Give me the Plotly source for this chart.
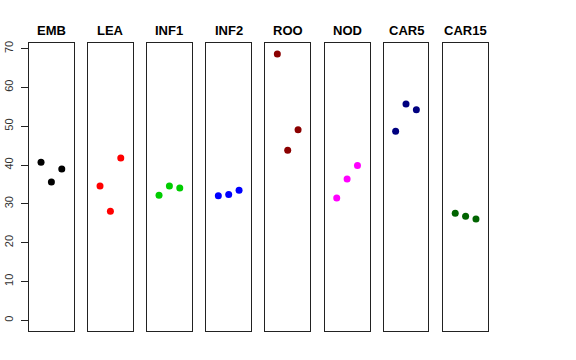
import plotly.graph_objects as go

categories = ["EMB", "LEA", "INF1", "INF2", "ROO", "NOD", "CAR5", "CAR15"]
colors = ["#000000", "#FF0000", "#00CD00", "#0000FF", "#8B0000", "#FF00FF", "#000080", "#006400"]
replicate = [1, 2, 3]
values = {
    "EMB": [40.7, 35.6, 39.0],
    "LEA": [34.6, 28.1, 41.8],
    "INF1": [32.2, 34.6, 34.1],
    "INF2": [32.1, 32.4, 33.5],
    "ROO": [68.6, 43.8, 49.1],
    "NOD": [31.5, 36.4, 39.9],
    "CAR5": [48.7, 55.7, 54.2],
    "CAR15": [27.6, 26.8, 26.1],
}
y_ticks = [0, 10, 20, 30, 40, 50, 60, 70]

W, H = 576, 360
panel_left = [29, 88, 147, 206.3, 265.3, 324.7, 383.6, 443.2]
panel_w = 44.8
top_px, bot_px = 43.3, 331.0

ymax = max(max(v) for v in values.values())
yr = [0 - 0.04 * ymax, ymax * 1.04]

fig = go.Figure()
for i, cat in enumerate(categories):
    ax = "" if i == 0 else str(i + 1)
    fig.add_trace(go.Scatter(
        x=replicate, y=values[cat], mode="markers",
        marker=dict(color=colors[i], size=7, line=dict(width=0)),
        xaxis="x" + ax, yaxis="y" + ax, showlegend=False, hoverinfo="skip",
    ))
    x0 = panel_left[i] / W
    x1 = (panel_left[i] + panel_w) / W
    xa = dict(domain=[x0, x1], range=[-0.16, 4.16], showticklabels=False, ticks="",
              showgrid=False, zeroline=False, showline=True, mirror=True,
              linecolor="#222222", linewidth=1, anchor="y" + ax, automargin=False)
    ya = dict(domain=[1 - bot_px / H, 1 - top_px / H], range=yr, showgrid=False,
              zeroline=False, showline=True, mirror=True, linecolor="#222222",
              linewidth=1, anchor="x" + ax, automargin=False)
    if i == 0:
        ya.update(tickvals=y_ticks, ticks="outside", ticklen=7, tickcolor="#222222",
                  tickangle=-90, ticklabelstandoff=4,
                  tickfont=dict(family="Liberation Sans, Arial", size=11, color="#333333"))
    else:
        ya.update(showticklabels=False, ticks="")
    fig.update_layout(**{"xaxis" + ax: xa, "yaxis" + ax: ya})
    fig.add_annotation(
        text="<b>" + cat + "</b>", x=(x0 + x1) / 2, y=1 - 30 / H,
        xref="paper", yref="paper", showarrow=False, xanchor="center", yanchor="middle",
        font=dict(family="Liberation Sans, Arial", size=13, color="#000000"),
    )

fig.update_layout(width=W, height=H, margin=dict(l=0, r=0, t=0, b=0),
                  plot_bgcolor="white", paper_bgcolor="white")
fig.write_html("out.html", config={"displayModeBar": False, "staticPlot": True},
               post_script="document.body.style.margin='0';document.body.style.overflow='hidden';")
